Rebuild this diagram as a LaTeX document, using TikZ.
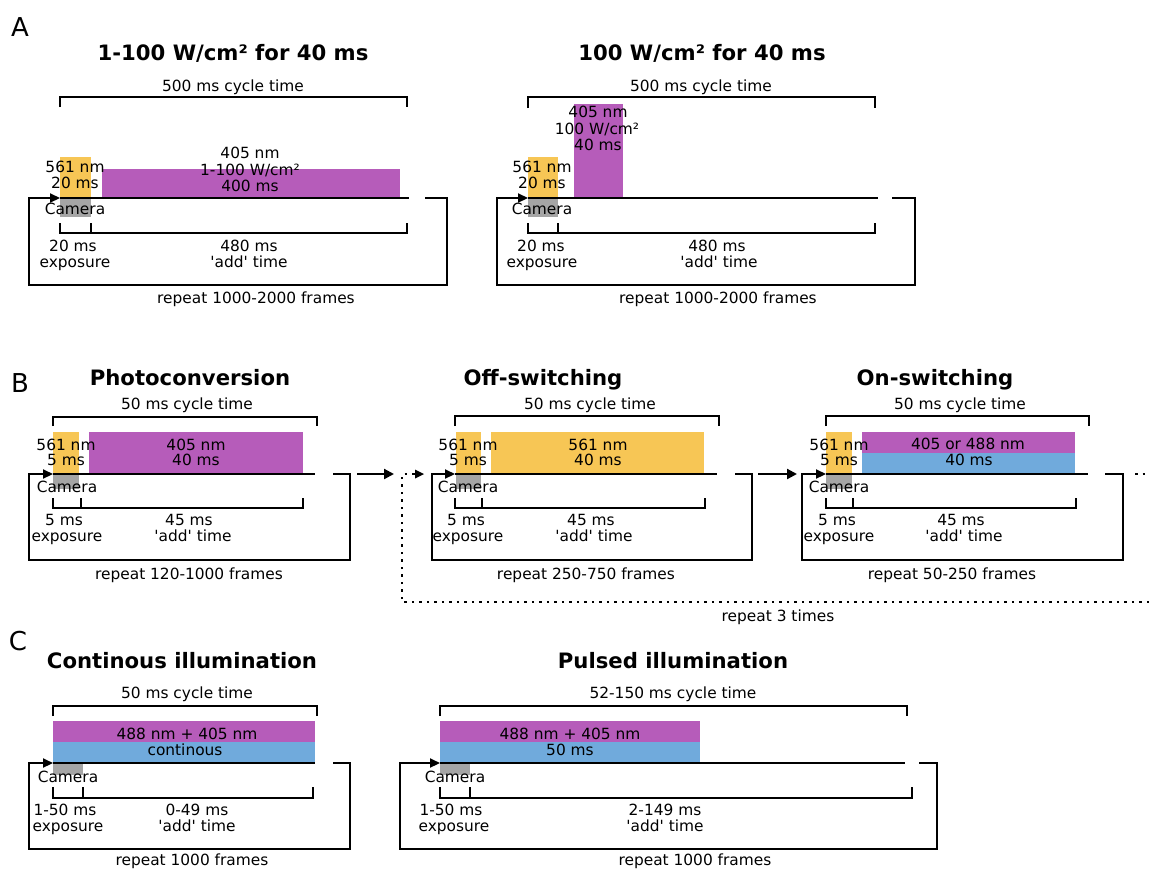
\documentclass[tikz,border=0pt]{standalone}
\usepackage{fontspec}
\setmainfont{DejaVu Sans}
\usetikzlibrary{arrows.meta}
\definecolor{cyel}{RGB}{247,198,85}
\definecolor{cpur}{RGB}{182,92,186}
\definecolor{cblu}{RGB}{112,170,220}
\definecolor{cgry}{RGB}{165,165,165}
\newcommand{\aq}{\textquotesingle}
\tikzset{
  t/.style={font=\fontsize{15.4}{18}\selectfont, inner sep=0pt, anchor=base, text=black},
  ttl/.style={font=\fontsize{21.2}{24}\selectfont\bfseries, inner sep=0pt, anchor=base},
  plabel/.style={font=\fontsize{26}{28}\selectfont, inner sep=0pt, anchor=base},
  tline/.style={line width=2.8pt, line cap=butt},
  loopline/.style={line width=2.2pt, -{Triangle[length=10pt,width=9pt]}},
  brk/.style={line width=1.6pt},
  flow/.style={line width=2.2pt, -{Triangle[length=10pt,width=10pt]}},
  dotline/.style={line width=2.2pt, dash pattern=on 2.5pt off 5pt},
}
\begin{document}
\begin{tikzpicture}[x=1pt,y=-1pt]
\useasboundingbox (0,0) rectangle (1149,870);
\fill[white] (0,0) rectangle (1149,870);

% ================= Panel A =================
\node[plabel] (lA) at (20,36) {A};
% --- A left
\node[ttl] (tA1) at (233,60) {1-100 W/cm² for 40 ms};
\fill[cyel] (60,157) rectangle (91,198);
\fill[cgry] (60,198) rectangle (91,217);
\fill[cpur] (102,169) rectangle (400,198);
\draw[brk] (60,107) -- (60,97) -- (407,97) -- (407,107);
\draw[brk] (60,223) -- (60,233) -- (407,233) -- (407,223);
\draw[brk] (91,223) -- (91,233);
\draw[tline] (60,198) -- (409,198);
\draw[loopline] (425,198) -- (447,198) -- (447,285) -- (29,285) -- (29,198) -- (60,198);
\node[t] (a1) at (233,91.5) {500 ms cycle time};
\node[t] (a2) at (75,172.5) {561 nm};
\node[t] (a3) at (75,188.5) {20 ms};
\node[t] (a4) at (250,158.5) {405 nm};
\node[t] (a5) at (250,175.5) {1-100 W/cm²};
\node[t] (a6) at (250,191.5) {400 ms};
\node[t] (a7) at (75,214.5) {Camera};
\node[t] (a8) at (73,251.5) {20 ms};
\node[t] (a9) at (75,267.5) {exposure};
\node[t] (a10) at (249,251.5) {480 ms};
\node[t] (a11) at (249,267.5) {\aq add\aq{} time};
\node[t] (a12) at (256,303.5) {repeat 1000-2000 frames};
% --- A right
\node[ttl] (tA2) at (702,60) {100 W/cm² for 40 ms};
\fill[cyel] (528,157) rectangle (558,198);
\fill[cgry] (528,198) rectangle (558,217);
\fill[cpur] (574,104) rectangle (623,198);
\draw[brk] (528,108) -- (528,97) -- (875,97) -- (875,108);
\draw[brk] (528,223) -- (528,233) -- (875,233) -- (875,223);
\draw[brk] (558,223) -- (558,233);
\draw[tline] (528,198) -- (878,198);
\draw[loopline] (892,198) -- (915,198) -- (915,285) -- (497,285) -- (497,198) -- (528,198);
\node[t] (b1) at (701,91.5) {500 ms cycle time};
\node[t] (b2) at (598,117.5) {405 nm};
\node[t] (b3) at (597,134.5) {100 W/cm²};
\node[t] (b4) at (598,150.5) {40 ms};
\node[t] (b5) at (542,172.5) {561 nm};
\node[t] (b6) at (542,188.5) {20 ms};
\node[t] (b7) at (542,214.5) {Camera};
\node[t] (b8) at (541,251.5) {20 ms};
\node[t] (b9) at (542,267.5) {exposure};
\node[t] (b10) at (717,251.5) {480 ms};
\node[t] (b11) at (719,267.5) {\aq add\aq{} time};
\node[t] (b12) at (718,303.5) {repeat 1000-2000 frames};

% ================= Panel B =================
\node[plabel] (lB) at (20,392) {B};
% --- Photoconversion
\node[ttl] (tB1) at (190,385) {Photoconversion};
\fill[cyel] (53,432) rectangle (79,474);
\fill[cgry] (53,474) rectangle (79,489);
\fill[cpur] (89,432) rectangle (303,474);
\draw[brk] (53,426) -- (53,417) -- (317,417) -- (317,426);
\draw[brk] (53,498) -- (53,508) -- (303,508) -- (303,498);
\draw[brk] (81,498) -- (81,508);
\draw[tline] (53,474) -- (315,474);
\draw[loopline] (333,474) -- (350,474) -- (350,560) -- (29,560) -- (29,474) -- (53,474);
\node[t] (c1) at (187,409) {50 ms cycle time};
\node[t] (c2) at (66,450.5) {561 nm};
\node[t] (c3) at (66,465.5) {5 ms};
\node[t] (c4) at (196,450.5) {405 nm};
\node[t] (c5) at (196,465.5) {40 ms};
\node[t] (c6) at (67,492.5) {Camera};
\node[t] (c7) at (64,525) {5 ms};
\node[t] (c8) at (67,541) {exposure};
\node[t] (c9) at (189,525) {45 ms};
\node[t] (c10) at (193,541) {\aq add\aq{} time};
\node[t] (c11) at (189,579) {repeat 120-1000 frames};
\coordinate (p1out) at (357,474);
\coordinate (p2in) at (394,474);
\draw[flow] (p1out) -- (p2in);
% --- Off-switching
\node[ttl] (tB2) at (543,385) {Off-switching};
\fill[cyel] (456,432) rectangle (481,474);
\fill[cgry] (456,474) rectangle (481,489);
\fill[cyel] (491,432) rectangle (704,474);
\draw[brk] (455,426) -- (455,416) -- (719,416) -- (719,426);
\draw[brk] (455,498) -- (455,508) -- (705,508) -- (705,498);
\draw[brk] (482,498) -- (482,508);
\draw[tline] (455,474) -- (717,474);
\draw[loopline] (735,474) -- (752,474) -- (752,560) -- (432,560) -- (432,474) -- (455,474);
\node[t] (d1) at (590,409) {50 ms cycle time};
\node[t] (d2) at (468,450.5) {561 nm};
\node[t] (d3) at (468,465.5) {5 ms};
\node[t] (d4) at (598,450.5) {561 nm};
\node[t] (d5) at (598,465.5) {40 ms};
\node[t] (d6) at (468,492.5) {Camera};
\node[t] (d7) at (466,525) {5 ms};
\node[t] (d8) at (468,541) {exposure};
\node[t] (d9) at (591,525) {45 ms};
\node[t] (d10) at (594,541) {\aq add\aq{} time};
\node[t] (d11) at (586,579) {repeat 250-750 frames};
\coordinate (p2out) at (758,474);
\coordinate (p3in) at (797,474);
\draw[flow] (p2out) -- (p3in);
% dotted repeat loop
\coordinate (rpA) at (1149,602);
\coordinate (rpB) at (402,602);
\coordinate (rpC) at (402,474);
\coordinate (rpD) at (424,474);
\draw[dotline] (rpA) -- (rpB) -- (rpC) -- (rpD);
\fill (rpD) -- ++(-9,-4.5) -- ++(0,9) -- cycle;
\node[t] (rep3) at (778,621.5) {repeat 3 times};
% --- On-switching
\node[ttl] (tB3) at (935,385) {On-switching};
\fill[cyel] (826,432) rectangle (852,474);
\fill[cgry] (826,474) rectangle (852,489);
\fill[cpur] (862,432) rectangle (1075,453);
\fill[cblu] (862,453) rectangle (1075,474);
\draw[brk] (826,426) -- (826,416) -- (1089,416) -- (1089,426);
\draw[brk] (826,498) -- (826,508) -- (1076,508) -- (1076,498);
\draw[brk] (853,498) -- (853,508);
\draw[tline] (826,474) -- (1088,474);
\draw[loopline] (1105,474) -- (1123,474) -- (1123,560) -- (802,560) -- (802,474) -- (826,474);
\coordinate (p3out) at (1135,474);
\coordinate (p3end) at (1149,474);
\draw[dotline] (p3out) -- (p3end);
\node[t] (e1) at (960,409) {50 ms cycle time};
\node[t] (e2) at (839,450.5) {561 nm};
\node[t] (e3) at (839,465.5) {5 ms};
\node[t] (e4) at (968,449.5) {405 or 488 nm};
\node[t] (e5) at (969,465.5) {40 ms};
\node[t] (e6) at (839,492.5) {Camera};
\node[t] (e7) at (837,525) {5 ms};
\node[t] (e8) at (839,541) {exposure};
\node[t] (e9) at (961,525) {45 ms};
\node[t] (e10) at (964,541) {\aq add\aq{} time};
\node[t] (e11) at (952,579) {repeat 50-250 frames};

% ================= Panel C =================
\node[plabel] (lC) at (18,650) {C};
% --- Continous
\node[ttl] (tC1) at (182,668) {Continous illumination};
\fill[cpur] (53,721) rectangle (315,742);
\fill[cblu] (53,742) rectangle (315,763);
\fill[cgry] (53,763) rectangle (83,775);
\draw[brk] (53,716) -- (53,706) -- (317,706) -- (317,716);
\draw[brk] (53,787) -- (53,798) -- (313,798) -- (313,787);
\draw[brk] (83,787) -- (83,798);
\draw[tline] (53,763) -- (315,763);
\draw[loopline] (333,763) -- (350,763) -- (350,849) -- (29,849) -- (29,763) -- (53,763);
\node[t] (f1) at (187,698.5) {50 ms cycle time};
\node[t] (f2) at (187,739.5) {488 nm + 405 nm};
\node[t] (f3) at (185,755.5) {continous};
\node[t] (f4) at (68,782.5) {Camera};
\node[t] (f5) at (65,815.5) {1-50 ms};
\node[t] (f6) at (68,831.5) {exposure};
\node[t] (f7) at (197,815.5) {0-49 ms};
\node[t] (f8) at (197,831.5) {\aq add\aq{} time};
\node[t] (f9) at (192,865.5) {repeat 1000 frames};
% --- Pulsed
\node[ttl] (tC2) at (673,668) {Pulsed illumination};
\fill[cpur] (440,721) rectangle (700,742);
\fill[cblu] (440,742) rectangle (700,763);
\fill[cgry] (440,763) rectangle (470,775);
\draw[brk] (440,716) -- (440,706) -- (907,706) -- (907,716);
\draw[brk] (440,787) -- (440,798) -- (912,798) -- (912,787);
\draw[brk] (470,787) -- (470,798);
\draw[tline] (440,763) -- (905,763);
\draw[loopline] (919,763) -- (937,763) -- (937,849) -- (400,849) -- (400,763) -- (440,763);
\node[t] (g1) at (673,698.5) {52-150 ms cycle time};
\node[t] (g2) at (570,739.5) {488 nm + 405 nm};
\node[t] (g3) at (570,755.5) {50 ms};
\node[t] (g4) at (455,782.5) {Camera};
\node[t] (g5) at (451,815.5) {1-50 ms};
\node[t] (g6) at (454,831.5) {exposure};
\node[t] (g7) at (665,815.5) {2-149 ms};
\node[t] (g8) at (665,831.5) {\aq add\aq{} time};
\node[t] (g9) at (695,865.5) {repeat 1000 frames};
\end{tikzpicture}
\end{document}
